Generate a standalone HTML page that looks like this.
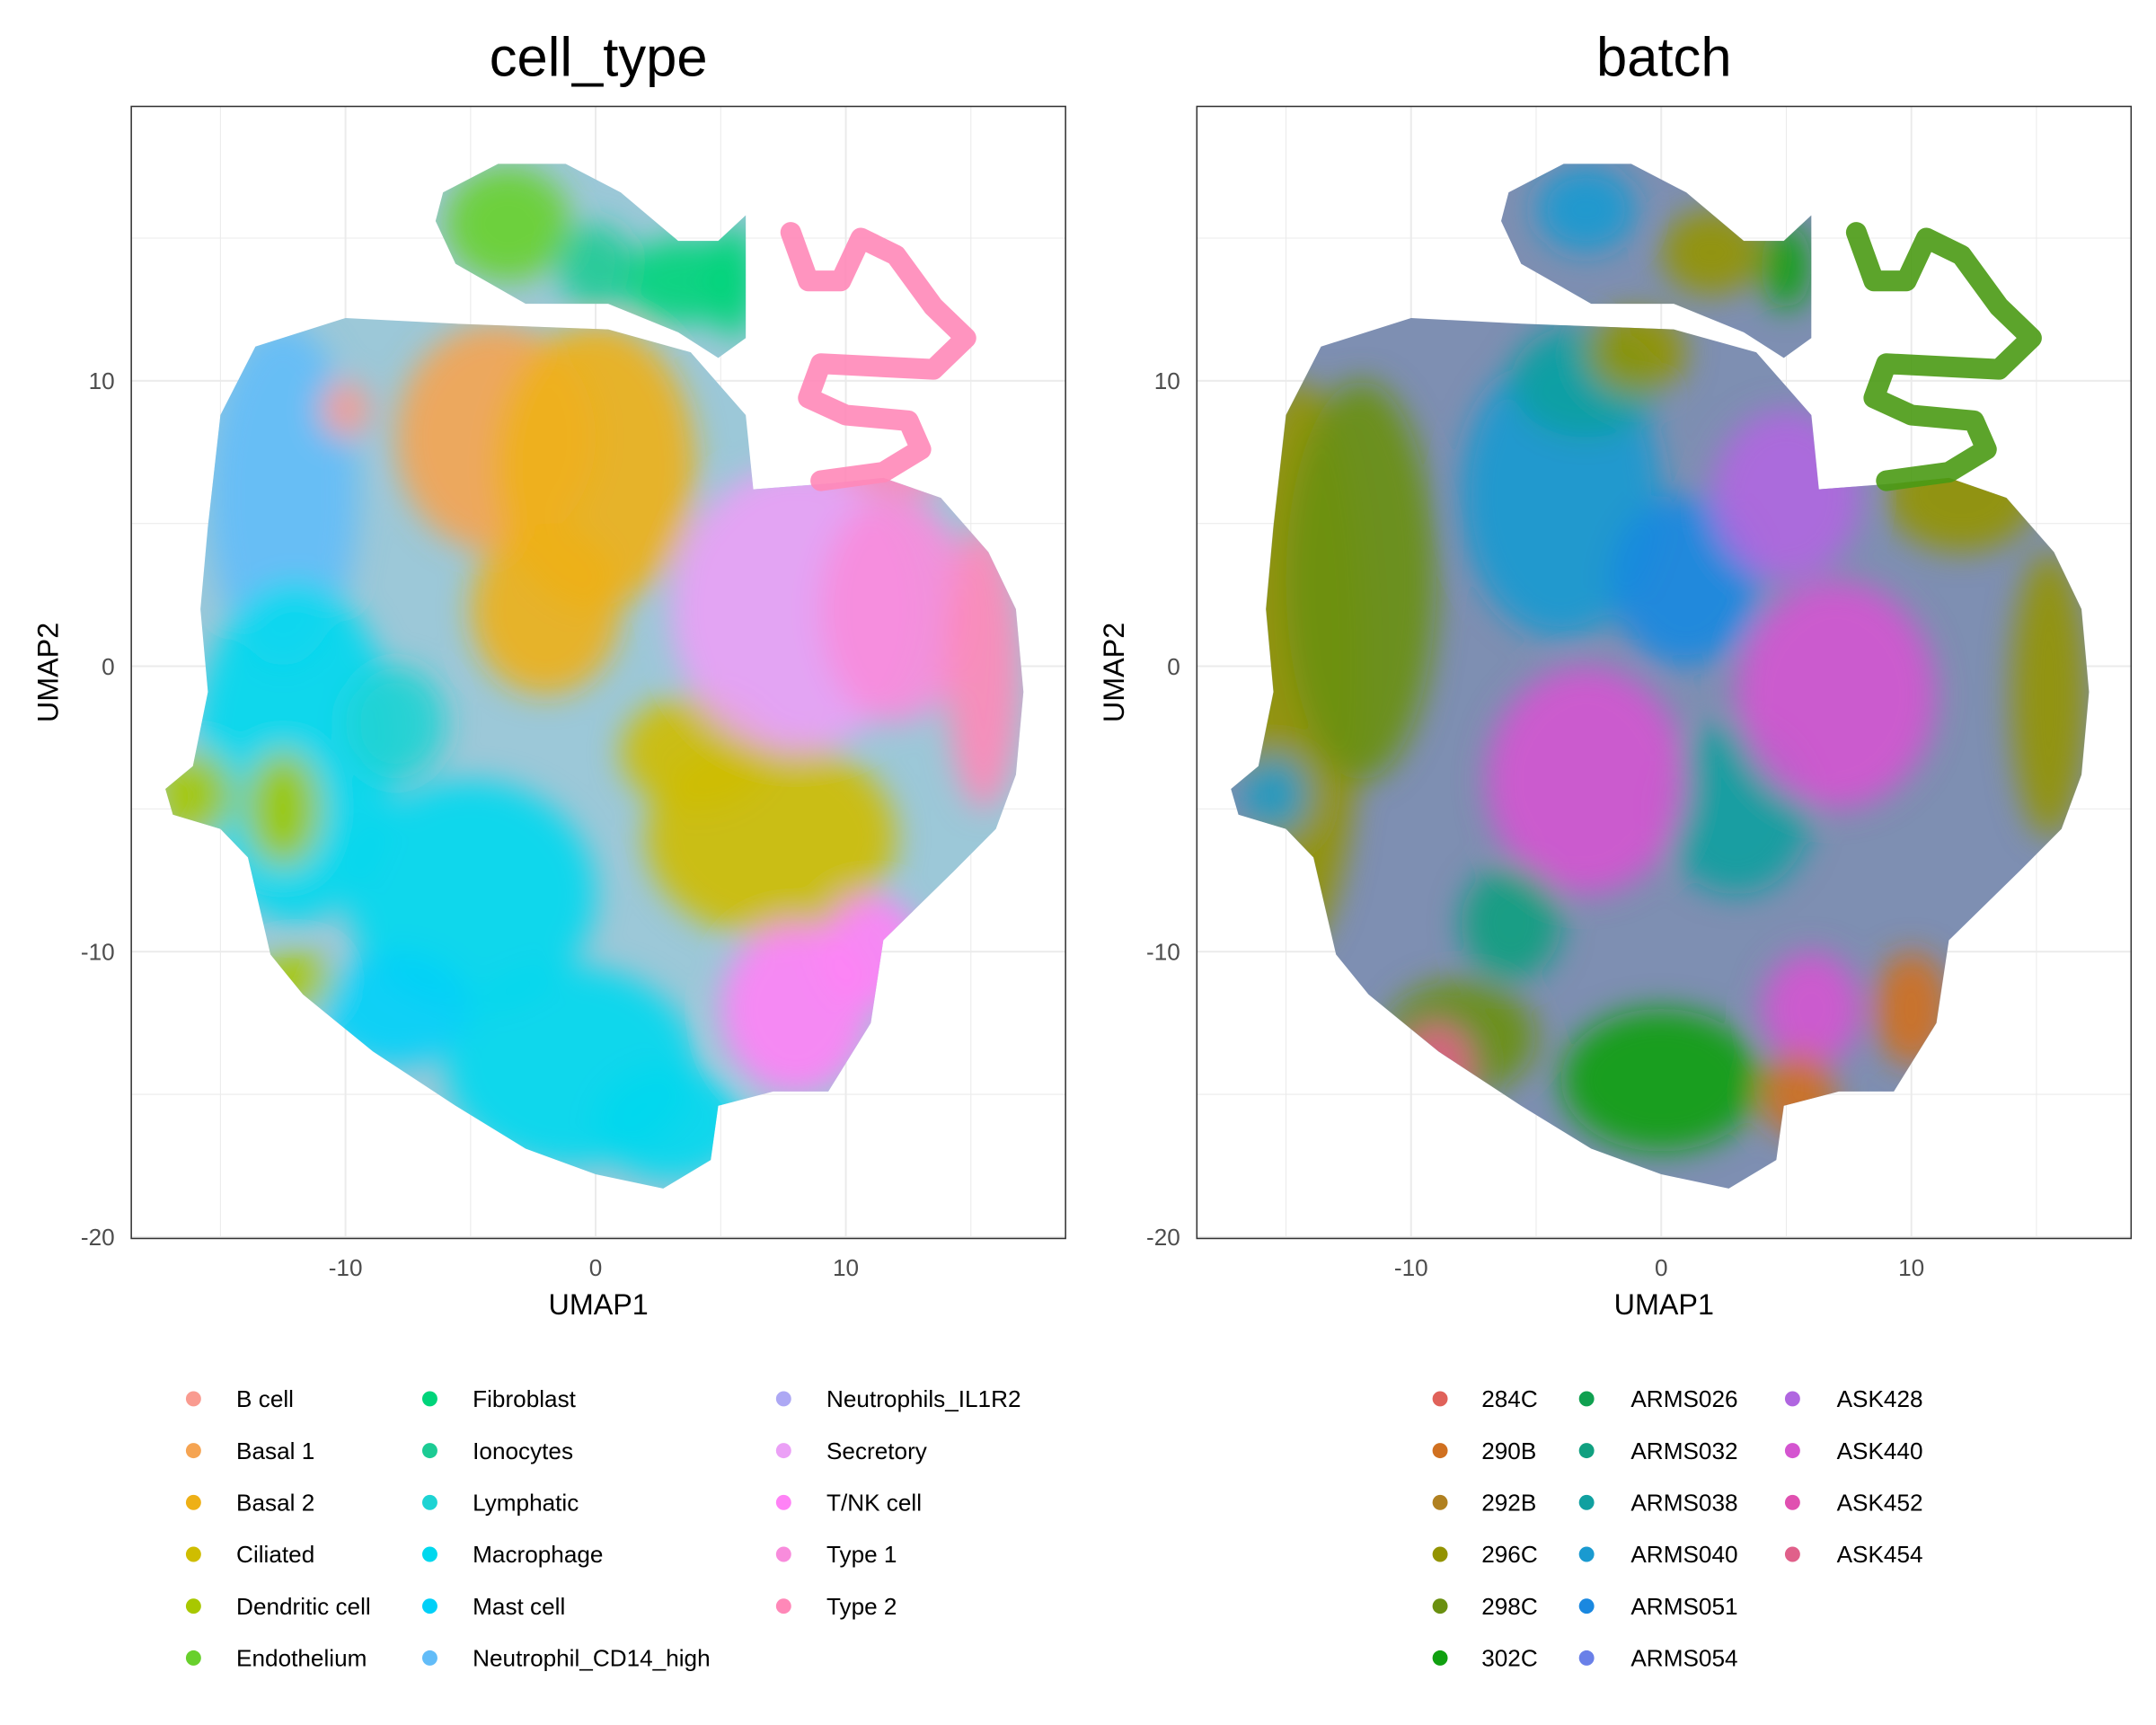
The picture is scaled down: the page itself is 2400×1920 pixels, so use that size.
<!DOCTYPE html>
<html><head><meta charset="utf-8">
<style>
html,body{margin:0;padding:0;background:#fff;}
svg{display:block;font-family:"Liberation Sans",sans-serif;}
</style></head>
<body>
<svg id="chart" width="2400" height="1920" viewBox="0 0 1560 1248" xmlns="http://www.w3.org/2000/svg">
<defs>
<filter id="blur" x="-30%" y="-30%" width="160%" height="160%"><feGaussianBlur stdDeviation="11"/></filter>
</defs>
</svg>
<script>
// ---- data ----
const cellTypes = ["B cell","Basal 1","Basal 2","Ciliated","Dendritic cell","Endothelium","Fibroblast","Ionocytes","Lymphatic","Macrophage","Mast cell","Neutrophil_CD14_high","Neutrophils_IL1R2","Secretory","T/NK cell","Type 1","Type 2"];
const cellColors = ["#f99b90","#f5a452","#eeb016","#cfbd00","#a8c800","#68d02c","#00d47a","#1ccb94","#1dd3d3","#00d8ee","#00d0f8","#62bcf8","#ada8f4","#eba0f6","#ff82f6","#f88cdc","#ff88b8"];
const batches = ["284C","290B","292B","296C","298C","302C","ARMS026","ARMS032","ARMS038","ARMS040","ARMS051","ARMS054","ASK428","ASK440","ASK452","ASK454"];
const batchColors = ["#e0625a","#d07020","#b08020","#939300","#6a9010","#10a010","#10a050","#10a080","#10a0a0","#1a9ad0","#1a88e0","#6a80e8","#b066e0","#d455d0","#e050b0","#e0608a"];
// outline of the embedding (data units)
const bodyX = [-15.5,-15,-13.6,-10,-5.6,0.5,3.8,6,6.3,9.3,11.5,13.8,15.7,16.8,17.1,16.8,16,14.3,11.5,11,9.3,7.1,4.9,4.6,2.7,0,-2.8,-5.6,-8.9,-11.7,-13,-13.9,-15,-16.9,-17.2,-16.1,-15.5,-15.8];
const bodyY = [4.9,8.8,11.2,12.2,12,11.8,11,8.8,6.2,6.4,6.6,5.9,4,2,-0.9,-3.8,-5.7,-7.2,-9.6,-12.5,-14.9,-14.9,-15.4,-17.3,-18.3,-17.8,-16.9,-15.4,-13.5,-11.5,-10.1,-6.7,-5.7,-5.2,-4.3,-3.5,-0.9,2];
const topX = [-6.1,-3.9,-1.2,1,3.3,4.9,6,6,4.9,3.3,0.5,-2.8,-5.6,-6.4];
const topY = [16.6,17.6,17.6,16.6,14.9,14.9,15.8,11.5,10.8,11.7,12.7,12.7,14.1,15.6];
const ribbonX = [7.8,8.5,9.8,10.6,12,13.5,14.8,13.5,9,8.5,10,12.5,13,11.5,9];
const ribbonY = [15.2,13.5,13.5,15,14.4,12.6,11.5,10.4,10.6,9.4,8.8,8.6,7.6,6.8,6.5];
// colour blobs: category index, centre x, centre y, spread x, spread y (data units)
const ctCat = [11,9,9,9,9,10,1,2,2,3,3,13,14,14,15,16,16,4,4,4,5,6,6,7,8,0];
const ctX =   [-12.5,-12,-5,-1,3,-8,-4,0,-2,7,4,8,8,11,12,15.5,12,-16,-12,-12.5,-3.5,3.5,5.5,0,-8,-10];
const ctY =   [6,-3,-8,-14,-16,-12,8,7,2,-6,-3,2,-12,-10,2,0,8,-4.5,-11,-5,15.5,13.5,13.5,14,-2,9];
const ctRX =  [3,4,5,5,3,3,4,4,3,5,3,5,3,2,3,1.5,3,1.5,1.5,1.5,2.5,2.5,1,1.5,2,1];
const ctRY =  [6,6,4,3.5,2,2,4,5,3,3.5,2,5,3,2,4,5,2,1.5,1,2,2,1.5,2,1.5,2,1];
const btCat = [3,3,3,4,4,5,9,9,8,8,10,13,13,13,12,1,1,9,3,5,15,7,3];
const btX =   [-14.5,15.5,12,-12,-8,0,-4,-15.5,3,-3,1,-3,7,6,5,5.5,10,-3,2,5,-9,-6,-1];
const btY =   [0,-1,6,3,-13,-14.5,6,-4.5,-5,10,3,-4,-1,-12,6,-15,-12,16,14.5,14,-14,-9,11];
const btRX =  [2.5,1.5,3,3,3,4,4,1.3,3,3,3,4,4,2,3,1.5,1.5,2,2,1,1.5,2,2];
const btRY =  [10,5,2,7,2,2.5,5,1.3,3,2,3,4,4,2,3,1.5,2,1.5,1.5,1.5,1.5,2,1.5];
const xTicks = [-10,0,10];
const yTicks = [10,0,-10,-20];

// ---- drawing ----
const NS="http://www.w3.org/2000/svg";
const svg=document.getElementById('chart');
const defs=svg.querySelector('defs');
function mk(tag,attrs,parent){const e=document.createElementNS(NS,tag);for(const k in attrs)e.setAttribute(k,attrs[k]);(parent||svg).appendChild(e);return e;}
const PX=18.1, PY=20.65, Y0=482, TOP=77, BOT=896, W=676;

function panel(idx,x0,title,cats,cols,bCat,bX,bY,bRX,bRY,baseCol,ribbonCol){
  const sx=v=>x0+336+PX*v, sy=v=>Y0-PY*v;
  const g=mk('g',{});
  
  
  for(let v=-15;v<=15;v+=5){const major=v%10===0;const l=mk('line',{x1:sx(v),x2:sx(v),y1:TOP,y2:BOT,stroke:'#ebebeb','stroke-width':major?1.3:0.7},g);}
  for(let v=-20;v<=15;v+=5){const major=v%10===0;const l=mk('line',{x1:x0,x2:x0+W,y1:sy(v),y2:sy(v),stroke:'#ebebeb','stroke-width':major?1.3:0.7},g);}
  const cp=mk('clipPath',{id:'clip'+idx},defs);
  const pts=(X,Y)=>X.map((v,i)=>sx(v)+','+sy(Y[i])).join(' ');
  mk('polygon',{points:pts(bodyX,bodyY)},cp);
  mk('polygon',{points:pts(topX,topY)},cp);
  const cg=mk('g',{'clip-path':'url(#clip'+idx+')'},g);
  
  
  mk('rect',{x:x0,y:TOP,width:W,height:BOT-TOP,fill:baseCol},cg);
  const bg=mk('g',{filter:'url(#blur)'},cg);
  bCat.forEach((c,i)=>{
    const e=mk('ellipse',{cx:sx(bX[i]),cy:sy(bY[i]),rx:bRX[i]*PX,ry:bRY[i]*PY,fill:cols[c],opacity:0.9},bg);
    
    
  });
  const rp=ribbonX.map((v,i)=>(i?'L':'M')+sx(v)+','+sy(ribbonY[i])).join(' ');
  const r=mk('path',{d:rp,fill:'none',stroke:ribbonCol,'stroke-width':15,'stroke-linejoin':'round','stroke-linecap':'round',opacity:0.9},g);
  
  
  const b=mk('rect',{x:x0,y:TOP,width:W,height:BOT-TOP,fill:'none',stroke:'#333','stroke-width':1},g);
  
  
  xTicks.forEach(v=>{const t=mk('text',{x:sx(v),y:923,'font-size':17,fill:'#4d4d4d','text-anchor':'middle'},g);t.textContent=v;});
  yTicks.forEach(v=>{const t=mk('text',{x:x0-12,y:sy(v)+6,'font-size':17,fill:'#4d4d4d','text-anchor':'end'},g);t.textContent=v;});
  const xt=mk('text',{x:x0+W/2,y:951,'font-size':21,fill:'#000','text-anchor':'middle'},g);xt.textContent='UMAP1';
  
  const yt=mk('text',{x:0,y:0,'font-size':21,fill:'#000','text-anchor':'middle',transform:`translate(${x0-53},${(TOP+BOT)/2}) rotate(-90)`},g);yt.textContent='UMAP2';
  
  const tt=mk('text',{x:x0+W/2,y:55,'font-size':40,fill:'#000','text-anchor':'middle'},g);tt.textContent=title;
  
}
panel(0,95,'cell_type',cellTypes,cellColors,ctCat,ctX,ctY,ctRX,ctRY,'#9cc8d8','#ff88b8');
panel(1,866,'batch',batches,batchColors,btCat,btX,btY,btRX,btRY,'#7e8fb2','#4a9a14');

function legend(cats,cols,dotX,textX){
  const g=mk('g',{});
  
  
  cats.forEach((c,i)=>{
    const col=Math.floor(i/6), row=i%6;
    const y=1012+row*37.5;
    const e=mk('g',{},g);
    
    
    mk('circle',{cx:dotX[col],cy:y,r:5.5,fill:cols[i]},e);
    const t=mk('text',{x:textX[col],y:y+6,'font-size':17,fill:'#000'},e);t.textContent=c;
  });
}
legend(cellTypes,cellColors,[140,311,567],[171,342,598]);
legend(batches,batchColors,[1042,1148,1297],[1072,1180,1329]);
</script>
</body></html>
